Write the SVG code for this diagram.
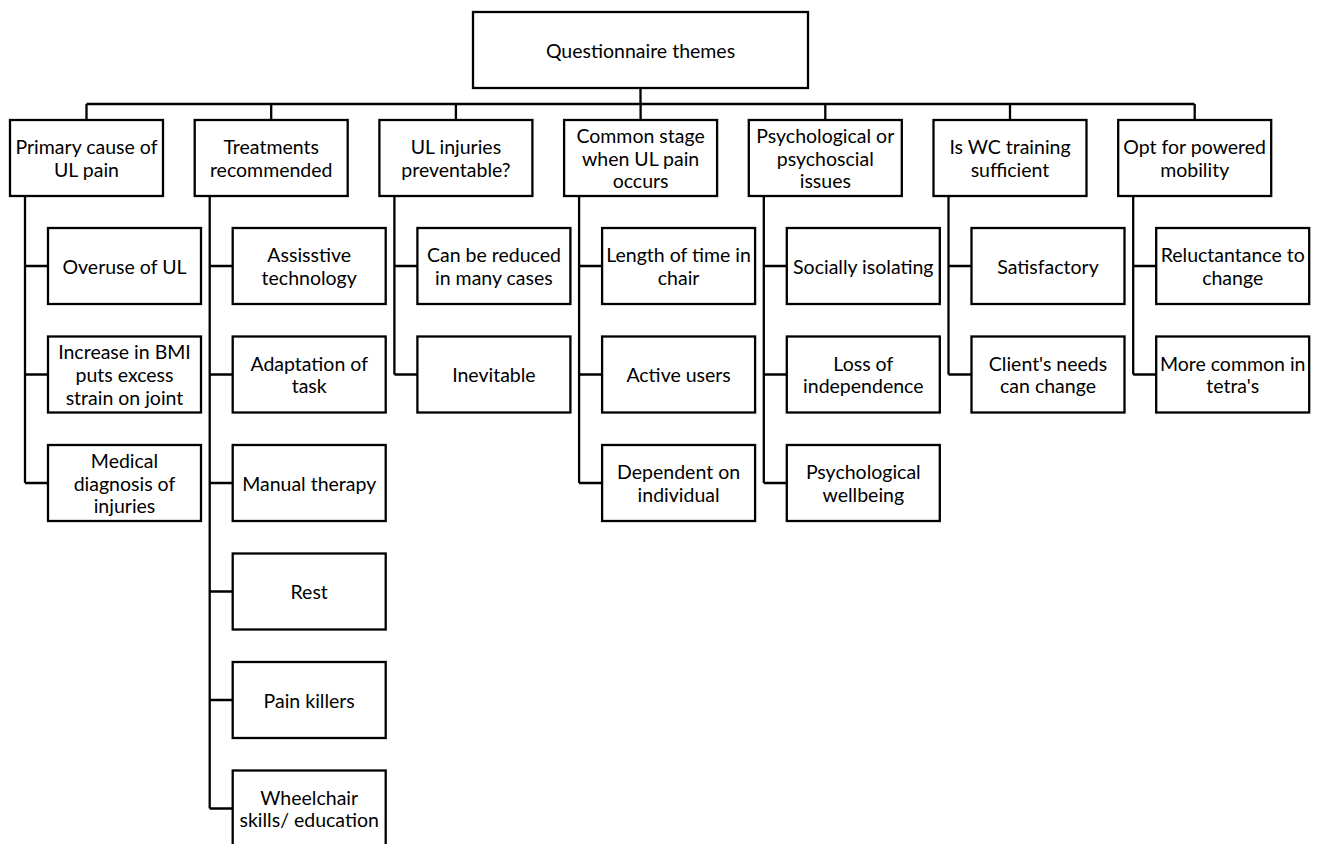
<svg xmlns="http://www.w3.org/2000/svg" width="1322" height="844" viewBox="0 0 1322 844">
<style>
rect{fill:#fff;stroke:#000;stroke-width:2.3}
.c path{fill:none;stroke:#000;stroke-width:2.3}
text{font-family:Lato,"Liberation Sans",sans-serif;font-size:19.5px;fill:#000;text-anchor:middle;dominant-baseline:central}
</style>
<rect width="1322" height="844" style="fill:#fff;stroke:none"/>
<g class="c" id="connectors">
<path d="M640.5 88V104M86.5 104H1194.5M86.5 104V120M271.2 104V120M455.9 104V120M640.6 104V120M825.3 104V120M1010 104V120M1194.7 104V120"/>
<path d="M25 196V483M25 266H48M25 374.5H48M25 483H48"/>
<path d="M209.7 196V808.5M209.7 266H232.7M209.7 374.5H232.7M209.7 483H232.7M209.7 591.5H232.7M209.7 700H232.7M209.7 808.5H232.7"/>
<path d="M394.4 196V374.5M394.4 266H417.4M394.4 374.5H417.4"/>
<path d="M579.1 196V483M579.1 266H602.1M579.1 374.5H602.1M579.1 483H602.1"/>
<path d="M763.8 196V483M763.8 266H786.8M763.8 374.5H786.8M763.8 483H786.8"/>
<path d="M948.5 196V374.5M948.5 266H971.5M948.5 374.5H971.5"/>
<path d="M1133.2 196V374.5M1133.2 266H1156.2M1133.2 374.5H1156.2"/>
</g>
<g id="root"><rect x="473" y="12" width="335" height="76"/><text x="640.5" y="50">Questionnaire themes</text></g>
<g id="cat1"><rect x="10" y="120" width="153" height="76"/><text x="86.5" y="146.6">Primary cause of</text><text x="86.5" y="169.4">UL pain</text></g>
<g id="cat2"><rect x="194.7" y="120" width="153" height="76"/><text x="271.2" y="146.6">Treatments</text><text x="271.2" y="169.4">recommended</text></g>
<g id="cat3"><rect x="379.4" y="120" width="153" height="76"/><text x="455.9" y="146.6">UL injuries</text><text x="455.9" y="169.4">preventable?</text></g>
<g id="cat4"><rect x="564.1" y="120" width="153" height="76"/><text x="640.6" y="135.2">Common stage</text><text x="640.6" y="158">when UL pain</text><text x="640.6" y="180.8">occurs</text></g>
<g id="cat5"><rect x="748.8" y="120" width="153" height="76"/><text x="825.3" y="135.2">Psychological or</text><text x="825.3" y="158">psychoscial</text><text x="825.3" y="180.8">issues</text></g>
<g id="cat6"><rect x="933.5" y="120" width="153" height="76"/><text x="1010" y="146.6">Is WC training</text><text x="1010" y="169.4">sufficient</text></g>
<g id="cat7"><rect x="1118.2" y="120" width="153" height="76"/><text x="1194.7" y="146.6">Opt for powered</text><text x="1194.7" y="169.4">mobility</text></g>
<g id="c1a"><rect x="48" y="228" width="153" height="76"/><text x="124.5" y="266">Overuse of UL</text></g>
<g id="c1b"><rect x="48" y="336.5" width="153" height="76"/><text x="124.5" y="351.7">Increase in BMI</text><text x="124.5" y="374.5">puts excess</text><text x="124.5" y="397.3">strain on joint</text></g>
<g id="c1c"><rect x="48" y="445" width="153" height="76"/><text x="124.5" y="460.2">Medical</text><text x="124.5" y="483">diagnosis of</text><text x="124.5" y="505.8">injuries</text></g>
<g id="c2a"><rect x="232.7" y="228" width="153" height="76"/><text x="309.2" y="254.6">Assisstive</text><text x="309.2" y="277.4">technology</text></g>
<g id="c2b"><rect x="232.7" y="336.5" width="153" height="76"/><text x="309.2" y="363.1">Adaptation of</text><text x="309.2" y="385.9">task</text></g>
<g id="c2c"><rect x="232.7" y="445" width="153" height="76"/><text x="309.2" y="483">Manual therapy</text></g>
<g id="c2d"><rect x="232.7" y="553.5" width="153" height="76"/><text x="309.2" y="591.5">Rest</text></g>
<g id="c2e"><rect x="232.7" y="662" width="153" height="76"/><text x="309.2" y="700">Pain killers</text></g>
<g id="c2f"><rect x="232.7" y="770.5" width="153" height="76"/><text x="309.2" y="797.1">Wheelchair</text><text x="309.2" y="819.9">skills/ education</text></g>
<g id="c3a"><rect x="417.4" y="228" width="153" height="76"/><text x="493.9" y="254.6">Can be reduced</text><text x="493.9" y="277.4">in many cases</text></g>
<g id="c3b"><rect x="417.4" y="336.5" width="153" height="76"/><text x="493.9" y="374.5">Inevitable</text></g>
<g id="c4a"><rect x="602.1" y="228" width="153" height="76"/><text x="678.6" y="254.6">Length of time in</text><text x="678.6" y="277.4">chair</text></g>
<g id="c4b"><rect x="602.1" y="336.5" width="153" height="76"/><text x="678.6" y="374.5">Active users</text></g>
<g id="c4c"><rect x="602.1" y="445" width="153" height="76"/><text x="678.6" y="471.6">Dependent on</text><text x="678.6" y="494.4">individual</text></g>
<g id="c5a"><rect x="786.8" y="228" width="153" height="76"/><text x="863.3" y="266">Socially isolating</text></g>
<g id="c5b"><rect x="786.8" y="336.5" width="153" height="76"/><text x="863.3" y="363.1">Loss of</text><text x="863.3" y="385.9">independence</text></g>
<g id="c5c"><rect x="786.8" y="445" width="153" height="76"/><text x="863.3" y="471.6">Psychological</text><text x="863.3" y="494.4">wellbeing</text></g>
<g id="c6a"><rect x="971.5" y="228" width="153" height="76"/><text x="1048" y="266">Satisfactory</text></g>
<g id="c6b"><rect x="971.5" y="336.5" width="153" height="76"/><text x="1048" y="363.1">Client's needs</text><text x="1048" y="385.9">can change</text></g>
<g id="c7a"><rect x="1156.2" y="228" width="153" height="76"/><text x="1232.7" y="254.6">Reluctantance to</text><text x="1232.7" y="277.4">change</text></g>
<g id="c7b"><rect x="1156.2" y="336.5" width="153" height="76"/><text x="1232.7" y="363.1">More common in</text><text x="1232.7" y="385.9">tetra's</text></g>
</svg>
